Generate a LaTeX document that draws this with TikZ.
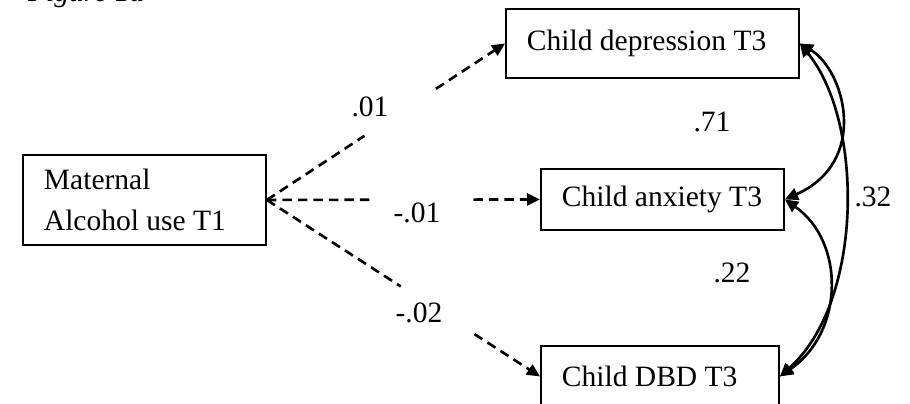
\documentclass[tikz,border=0pt]{standalone}
\usepackage{fontspec}
\setmainfont{Liberation Serif}
\usetikzlibrary{arrows.meta,calc}
\newcommand{\fs}{\fontsize{16.8pt}{23.3pt}\selectfont}
\tikzset{
  box/.style={draw, line width=1.1pt, inner xsep=0.42cm, inner ysep=0pt,
    anchor=north west, font=\fs},
  path/.style={line width=1.5pt, dash pattern=on 0.19cm off 0.12cm},
  cov/.style={line width=1.5pt, {Triangle[length=7.5pt,width=7pt]}-{Triangle[length=7.5pt,width=7pt]}},
  coef/.style={font=\fs}
}
\begin{document}
\begin{tikzpicture}[x=0.02cm,y=-0.02cm]
  \useasboundingbox (0,0) rectangle (910,404);
  \node[anchor=base west, font=\fs\itshape] (fig) at (22,2) {Figure 1a};
  % boxes
  \node[box, minimum height=1.8cm] (mat) at (22,154)
    {\parbox{4.02cm}{\raggedright Maternal\\Alcohol use T1}};
  \node[box, minimum height=1.38cm] (dep) at (505,8) {\makebox[5.02cm][l]{Child depression T3}};
  \node[box, minimum height=1.22cm] (anx) at (540,168) {\makebox[4.02cm][l]{Child anxiety T3}};
  \node[box, minimum height=1.22cm] (dbd) at (540,345) {\makebox[3.92cm][l]{Child DBD T3}};
  % paths from T1, broken where the coefficients sat
  \foreach \t/\a/\b in {dep/0.41/0.71, anx/0.375/0.756, dbd/0.49/0.76}{
    \coordinate (\t a) at ($(mat.east)!\a!(\t.west)$);
    \coordinate (\t b) at ($(mat.east)!\b!(\t.west)$);
    \draw[path] (mat.east) -- (\t a);
    \draw[path,-{Triangle[length=7.4pt,width=6.8pt]}] (\t b) -- (\t.west);
  }
  \node[coef] (c01) at (370,107) {.01};
  \node[coef] (cm01) at (417,213) {-.01};
  \node[coef] (cm02) at (419,313) {-.02};
  % correlations
  \draw[cov] (dep.east) .. controls +(45,27) and +(85,-38) .. (anx.east);
  \draw[cov] (anx.east) .. controls +(60,42) and +(65,-45) .. (dbd.east);
  \draw[cov] (dep.east) .. controls +(64,78) and +(84,-75) .. (dbd.east);
  \node[coef] (c71) at (712,122) {.71};
  \node[coef] (c22) at (732,273) {.22};
  \node[coef] (c32) at (873,197) {.32};
\end{tikzpicture}
\end{document}
